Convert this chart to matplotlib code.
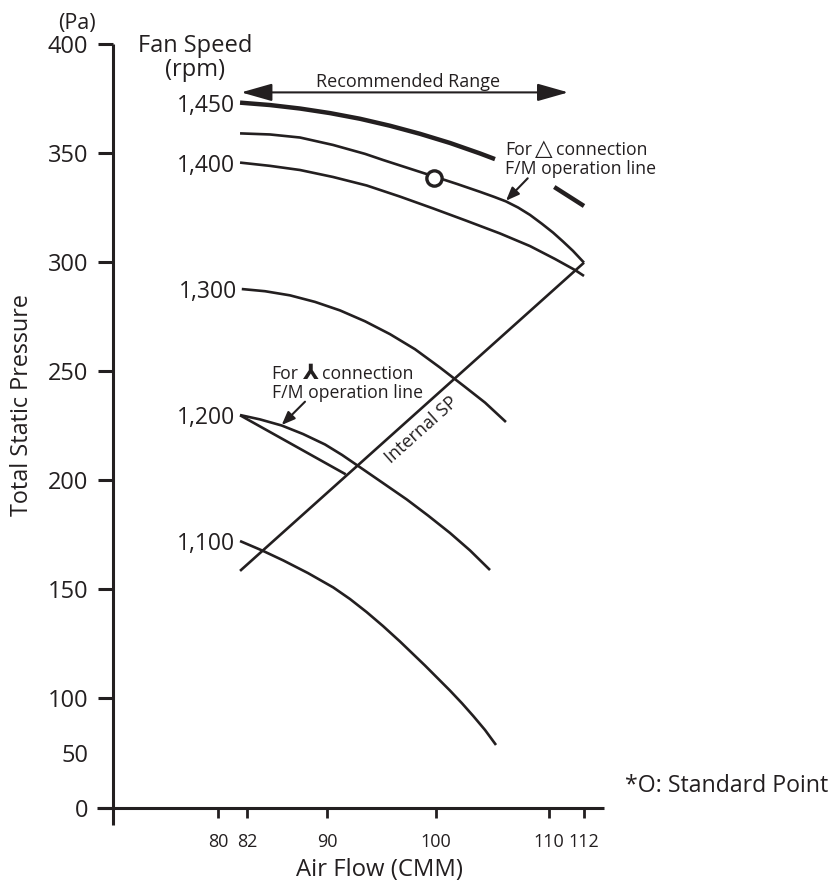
import numpy as np
import matplotlib
matplotlib.use('Agg')
import matplotlib.pyplot as plt
import matplotlib.transforms as mtransforms
from matplotlib.patches import FancyArrowPatch

# ---------------- data ----------------
rpm_labels = ['1,450', '1,400', '1,300', '1,200', '1,100']
x_ticks = [80, 82, 90, 100, 110, 112]
y_ticks = [0, 50, 100, 150, 200, 250, 300, 350, 400]

c1450_x = [81.52, 84.3, 87.3, 90.28, 93.03, 95.78, 98.53, 101.24, 103.89, 105.22]
c1450_y = [373.1, 372.0, 370.4, 368.3, 365.7, 362.5, 358.8, 354.6, 349.8, 347.2]
c1450b_x = [110.3, 112.0]
c1450b_y = [334.4, 325.7]

delta_x = [81.52, 84.3, 87.3, 90.55, 93.49, 95.14, 97.43, 99.72, 101.86, 103.89,
           105.13, 106.19, 107.26, 108.32, 109.38, 110.23, 110.8, 111.37, 112.0]
delta_y = [359.0, 358.5, 357.1, 353.7, 349.6, 346.8, 343.1, 339.4, 335.8, 332.2,
           329.9, 327.8, 325.0, 321.6, 317.5, 313.5, 309.4, 305.1, 299.7]

c1400_x = [81.52, 84.3, 87.3, 90.55, 93.64, 96.7, 99.72, 102.65, 105.66, 108.32,
           110.34, 111.49, 112.0]
c1400_y = [345.6, 344.1, 342.2, 339.0, 335.1, 330.0, 324.6, 319.0, 313.1, 307.3,
           301.4, 296.3, 293.6]

c1300_x = [81.64, 83.8, 86.3, 88.8, 91.19, 93.49, 95.78, 98.07, 100.35, 102.57,
           104.34, 106.19]
c1300_y = [287.6, 286.6, 284.7, 281.7, 277.8, 272.8, 266.9, 260.0, 251.6, 242.7,
           235.5, 226.6]

c1200_x = [81.52, 83.3, 85.47, 87.6, 89.8, 91.38, 92.87, 95.05, 97.31, 99.27,
           101.24, 103.01, 104.78]
c1200_y = [229.8, 227.8, 225.0, 221.1, 216.3, 211.5, 206.4, 198.9, 191.1, 183.7,
           175.7, 167.7, 158.7]

wye_x = [81.52, 91.72]
wye_y = [229.7, 202.6]

c1100_x = [81.52, 83.5, 85.63, 88.1, 90.58, 92.11, 93.64, 95.14, 96.7, 98.99,
           101.24, 102.3, 103.3, 104.34, 105.31]
c1100_y = [172.0, 167.7, 163.1, 157.3, 150.7, 145.4, 139.4, 133.0, 125.9, 114.9,
           103.4, 95.2, 83.6, 70.9, 57.3]

sp_x = [81.52, 112.0]
sp_y = [158.3, 299.7]

std_x = [99.8]
std_y = [338.5]

range_x = [81.6, 111.1]
range_y = [377.8, 377.8]

# ---------------- layout ----------------
W, H = 835, 881
INK = '#231f20'
FONT = ['Open Sans', 'DejaVu Sans', 'Noto Sans CJK SC']
plt.rcParams['font.family'] = FONT

# schematic (piecewise linear) axes as drawn in the original
XK_VAL = [60, 70, 80, 82, 90, 100, 110, 112, 120]
XK_POS = [8, 113, 218, 247, 327, 436, 549, 584, 668]
YK_VAL = [-100, 0, 100, 400, 600]
YK_POS = [-110, 0, 110, 764, 1200]

def xf(v):
    return np.interp(np.asarray(v, float), XK_VAL, XK_POS)

def xi(p):
    return np.interp(np.asarray(p, float), XK_POS, XK_VAL)

def yf(v):
    return np.interp(np.asarray(v, float), YK_VAL, YK_POS)

def yi(p):
    return np.interp(np.asarray(p, float), YK_POS, YK_VAL)

fig = plt.figure(figsize=(W / 100, H / 100), dpi=100)
fig.patch.set_facecolor('white')
PX = mtransforms.Affine2D().scale(1, -1).translate(0, H)

L, R, T, B = 97, 604, 44, 825
ax = fig.add_axes([L / W, (H - B) / H, (R - L) / W, (B - T) / H])
ax.set_xscale('function', functions=(xf, xi))
ax.set_yscale('function', functions=(yf, yi))
ax.set_xlim(float(xi(L)), float(xi(R)))
ax.set_ylim(float(yi(808 - B)), 400)
ax.patch.set_alpha(0)

for s in ['top', 'right']:
    ax.spines[s].set_visible(False)
ax.spines['left'].set_position(('data', 70))
ax.spines['bottom'].set_position(('data', 0))
for s in ['left', 'bottom']:
    ax.spines[s].set_linewidth(2.2)
    ax.spines[s].set_color(INK)
    ax.spines[s].set_capstyle('butt')

ax.set_xticks(x_ticks)
ax.set_xticklabels([str(v) for v in x_ticks])
ax.set_yticks(y_ticks)
ax.set_yticklabels([str(v) for v in y_ticks])
ax.xaxis.set_minor_locator(matplotlib.ticker.NullLocator())
ax.yaxis.set_minor_locator(matplotlib.ticker.NullLocator())
ax.tick_params(axis='x', direction='out', length=7.2, width=2.0, color=INK,
               pad=10.5, labelsize=13, labelcolor=INK)
ax.tick_params(axis='y', direction='out', length=10.8, width=2.2, color=INK,
               pad=7, labelsize=17, labelcolor=INK)
ax.yaxis.get_major_ticks()[1].tick1line.set_visible(False)

lw = 1.9
kw = dict(color=INK, lw=lw, solid_capstyle='butt', solid_joinstyle='round', clip_on=False)
ax.plot(c1450_x, c1450_y, color=INK, lw=3.2, solid_capstyle='butt',
        solid_joinstyle='round', clip_on=False)
ax.plot(c1450b_x, c1450b_y, color=INK, lw=3.2, solid_capstyle='butt', clip_on=False)
ax.plot(delta_x, delta_y, **kw)
ax.plot(c1400_x, c1400_y, **kw)
ax.plot(c1300_x, c1300_y, **kw)
ax.plot(c1200_x, c1200_y, **kw)
ax.plot(wye_x, wye_y, **kw)
ax.plot(c1100_x, c1100_y, **kw)
ax.plot(sp_x, sp_y, color=INK, lw=lw, solid_capstyle='butt', clip_on=False)
ax.plot(std_x, std_y, 'o', ms=11, mfc='white', mec=INK, mew=2.4, zorder=5, clip_on=False)

# rpm labels at the start of each curve
starts = [(c1450_x[0], c1450_y[0]), (c1400_x[0], c1400_y[0]), (c1300_x[0], c1300_y[0]),
          (c1200_x[0], c1200_y[0]), (c1100_x[0], c1100_y[0])]
for lab, (sx, sy) in zip(rpm_labels, starts):
    ax.annotate(lab, xy=(sx, sy), xytext=(-3.5, 0), textcoords='offset points',
                ha='right', va='center_baseline', fontsize=16.5, color=INK)

# recommended range arrow
arr = FancyArrowPatch((range_x[0], range_y[0]), (range_x[1], range_y[1]),
                      arrowstyle='<|-|>,head_length=19,head_width=5.4',
                      mutation_scale=1, lw=1.5, color=INK, shrinkA=0, shrinkB=0,
                      clip_on=False)
ax.add_patch(arr)

def ptext(x, y, s, **k):
    k.setdefault('color', INK)
    fig.text(x, y, s, transform=PX, **k)

AN = 12.7
ptext(408, 86.7, 'Recommended Range', ha='center', va='baseline', fontsize=13)
# delta connection note
ptext(505, 155, 'For', ha='left', va='baseline', fontsize=AN)
ptext(534.5, 155.5, '\u25B3', ha='left', va='baseline', fontsize=16.5,
      family=['DejaVu Sans'])
ptext(556, 155, 'connection', ha='left', va='baseline', fontsize=AN)
ptext(505, 174.3, 'F/M operation line', ha='left', va='baseline', fontsize=AN)
# wye connection note
ptext(271.7, 379, 'For', ha='left', va='baseline', fontsize=AN)
ptext(302.5, 379, '\u2144', ha='left', va='baseline', fontsize=15, fontweight='bold',
      family=['DejaVu Sans'])
ptext(321.7, 379, 'connection', ha='left', va='baseline', fontsize=AN)
ptext(271.7, 398.3, 'F/M operation line', ha='left', va='baseline', fontsize=AN)
ptext(421.7, 430, 'Internal SP', ha='center', va='center', rotation=41.8,
      rotation_mode='anchor', fontsize=13)

for (x0, y0, x1, y1) in [(527.7, 178.3, 506, 200.7), (305, 401.7, 281.7, 425)]:
    a = FancyArrowPatch((x0, y0), (x1, y1), transform=PX,
                        arrowstyle='-|>,head_length=8,head_width=3.2',
                        mutation_scale=1, lw=1.5, color=INK, shrinkA=0, shrinkB=0)
    fig.add_artist(a)

ptext(195, 51.7, 'Fan Speed', ha='center', va='baseline', fontsize=17)
ptext(195, 76, '(rpm)', ha='center', va='baseline', fontsize=17)
ptext(77, 29.3, '(Pa)', ha='center', va='baseline', fontsize=15.5)
ptext(380, 875.5, 'Air Flow (CMM)', ha='center', va='baseline', fontsize=17.2)
ptext(28.3, 405, 'Total Static Pressure', ha='center', va='baseline', rotation=90,
      rotation_mode='anchor', fontsize=16.8)
ptext(625, 792, '*O: Standard Point', ha='left', va='baseline', fontsize=16.7)

fig.savefig('out.png', dpi=100, facecolor='white')
